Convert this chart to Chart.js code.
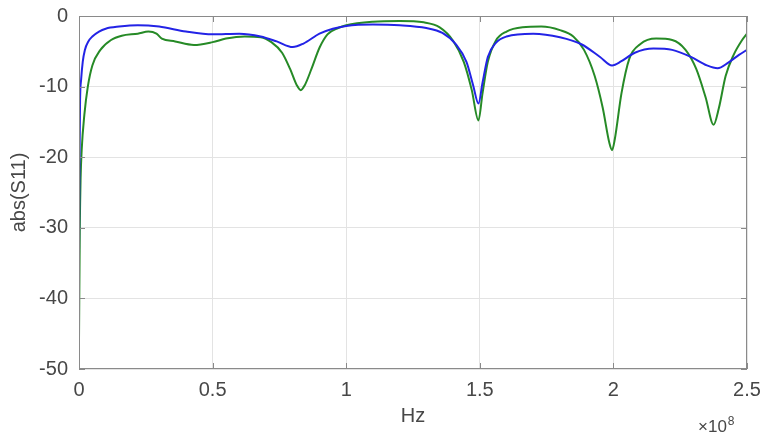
<!DOCTYPE html>
<html>
<head>
<meta charset="utf-8">
<script src="https://cdn.jsdelivr.net/npm/chart.js@4/dist/chart.umd.min.js"></script>
<style>
  html, body { margin: 0; padding: 0; background: #fff; }
  #wrap { width: 761px; height: 432px; }
</style>
</head>
<body>
<div id="wrap"><canvas id="s11Chart"></canvas></div>
<script>
// frequency in units of 1e8 Hz, values in abs(S11)
const freqBlue = [0, 0.002, 0.004, 0.008, 0.014, 0.022, 0.035, 0.05, 0.075, 0.1, 0.15, 0.22, 0.3, 0.4, 0.5, 0.6, 0.68, 0.74, 0.8, 0.84, 0.9, 0.95, 1.0, 1.1, 1.2, 1.3, 1.36, 1.41, 1.45, 1.475, 1.495, 1.51, 1.53, 1.56, 1.6, 1.7, 1.8, 1.88, 1.95, 1.995, 2.03, 2.08, 2.15, 2.22, 2.29, 2.35, 2.39, 2.43, 2.47, 2.5];
const s11Blue  = [-34.3, -20, -12, -9, -6.5, -4.8, -3.6, -2.9, -2.2, -1.8, -1.5, -1.3, -1.5, -2.2, -2.6, -2.5, -2.9, -3.6, -4.4, -3.9, -2.5, -1.8, -1.4, -1.2, -1.3, -1.7, -2.4, -4.0, -6.5, -9.8, -12.4, -9.5, -5.8, -3.8, -2.9, -2.5, -3.0, -4.0, -5.8, -7.0, -6.4, -5.2, -4.6, -4.8, -5.8, -7.0, -7.4, -6.6, -5.5, -4.8];

const freqGreen = [0, 0.003, 0.006, 0.01, 0.02, 0.033, 0.05, 0.08, 0.12, 0.16, 0.22, 0.26, 0.29, 0.31, 0.36, 0.43, 0.5, 0.55, 0.62, 0.68, 0.72, 0.76, 0.79, 0.815, 0.83, 0.845, 0.87, 0.9, 0.93, 0.97, 1.0, 1.1, 1.2, 1.29, 1.35, 1.4, 1.44, 1.47, 1.495, 1.51, 1.53, 1.56, 1.6, 1.66, 1.73, 1.8, 1.85, 1.89, 1.93, 1.96, 1.985, 1.995, 2.005, 2.03, 2.06, 2.1, 2.16, 2.22, 2.27, 2.31, 2.345, 2.375, 2.395, 2.42, 2.45, 2.48, 2.5];
const s11Green  = [-46, -30, -23, -19, -14, -10, -7, -4.8, -3.4, -2.8, -2.5, -2.2, -2.5, -3.2, -3.6, -4.1, -3.7, -3.2, -2.9, -3.0, -3.7, -5.2, -7.5, -9.8, -10.5, -9.8, -7.5, -4.5, -2.6, -1.7, -1.3, -0.8, -0.7, -0.9, -1.6, -3.5, -6.5, -10.5, -14.8, -11, -6.5, -3.5, -2.2, -1.6, -1.5, -2.0, -2.9, -4.8, -8.5, -13, -18, -19, -17.5, -11, -6, -4, -3.2, -3.4, -4.8, -7.5, -11.5, -15.4, -13, -8.5, -5.5, -3.5, -2.5];

const xTicks = [0, 0.5, 1, 1.5, 2, 2.5];
const yTicks = [-50, -40, -30, -20, -10, 0];

const textColor = "#474747";
const boxColor = "#8a8a8a";
const gridColor = "#e3e3e3";

function toPoints(xs, ys) {
  return xs.map((x, i) => ({ x: x, y: ys[i] }));
}

// box on all four sides, inward tick marks, and the x10^8 exponent
const matlabAxes = {
  id: "matlabAxes",
  afterDraw(chart) {
    const { ctx, chartArea: a, scales } = chart;
    ctx.save();
    ctx.strokeStyle = boxColor;
    ctx.lineWidth = 1;
    ctx.strokeRect(a.left + 0.5, a.top + 0.5, a.right - a.left - 1, a.bottom - a.top - 1);

    ctx.beginPath();
    xTicks.forEach(v => {
      const px = Math.round(scales.x.getPixelForValue(v)) + 0.5;
      ctx.moveTo(px, a.bottom); ctx.lineTo(px, a.bottom - 6);
      ctx.moveTo(px, a.top); ctx.lineTo(px, a.top + 6);
    });
    yTicks.forEach(v => {
      const py = Math.round(scales.y.getPixelForValue(v)) + 0.5;
      ctx.moveTo(a.left, py); ctx.lineTo(a.left + 6, py);
      ctx.moveTo(a.right, py); ctx.lineTo(a.right - 6, py);
    });
    ctx.stroke();

    ctx.fillStyle = textColor;
    ctx.textBaseline = "alphabetic";
    ctx.textAlign = "left";
    ctx.font = "17px 'Liberation Sans', Arial, sans-serif";
    ctx.fillText("\u00d710", 698, 432);
    const w = ctx.measureText("\u00d710").width;
    ctx.font = "12px 'Liberation Sans', Arial, sans-serif";
    ctx.fillText("8", 698 + w + 1, 425);
    ctx.restore();
  }
};

new Chart(document.getElementById("s11Chart"), {
  type: "line",
  data: {
    datasets: [
      {
        label: "blue",
        data: toPoints(freqBlue, s11Blue),
        borderColor: "#2323e6",
        borderWidth: 2,
        pointRadius: 0,
        cubicInterpolationMode: "monotone",
        fill: false
      },
      {
        label: "green",
        data: toPoints(freqGreen, s11Green),
        borderColor: "#268a26",
        borderWidth: 2,
        pointRadius: 0,
        cubicInterpolationMode: "monotone",
        fill: false
      }
    ]
  },
  plugins: [matlabAxes],
  options: {
    responsive: true,
    maintainAspectRatio: false,
    animation: false,
    layout: { padding: { top: 16, right: 14, left: 0, bottom: 0 } },
    plugins: {
      legend: { display: false },
      tooltip: { enabled: false }
    },
    scales: {
      x: {
        type: "linear",
        min: 0,
        max: 2.5,
        afterFit: s => {
          s.height = 63;
          s.paddingLeft = 0;
          s.paddingRight = 0;
        },
        afterBuildTicks: s => { s.ticks = xTicks.map(v => ({ value: v })); },
        grid: { color: gridColor, drawTicks: false },
        border: { display: false },
        ticks: {
          color: textColor,
          padding: 9,
          maxRotation: 0,
          font: { family: "'Liberation Sans', Arial, sans-serif", size: 20 },
          callback: v => String(v)
        },
        title: {
          display: true,
          text: "Hz",
          color: textColor,
          padding: { top: 0, bottom: 4 },
          font: { family: "'Liberation Sans', Arial, sans-serif", size: 20 }
        }
      },
      y: {
        min: -50,
        max: 0,
        afterFit: s => {
          s.width = 79;
          s.paddingTop = 0;
          s.paddingBottom = 0;
        },
        afterBuildTicks: s => { s.ticks = yTicks.map(v => ({ value: v })); },
        grid: { color: gridColor, drawTicks: false },
        border: { display: false },
        ticks: {
          color: textColor,
          padding: 11,
          font: { family: "'Liberation Sans', Arial, sans-serif", size: 20 },
          callback: v => String(v)
        },
        title: {
          display: true,
          text: "abs(S11)",
          color: textColor,
          padding: { top: 7, bottom: 0 },
          font: { family: "'Liberation Sans', Arial, sans-serif", size: 20 }
        }
      }
    }
  }
});
</script>
</body>
</html>
